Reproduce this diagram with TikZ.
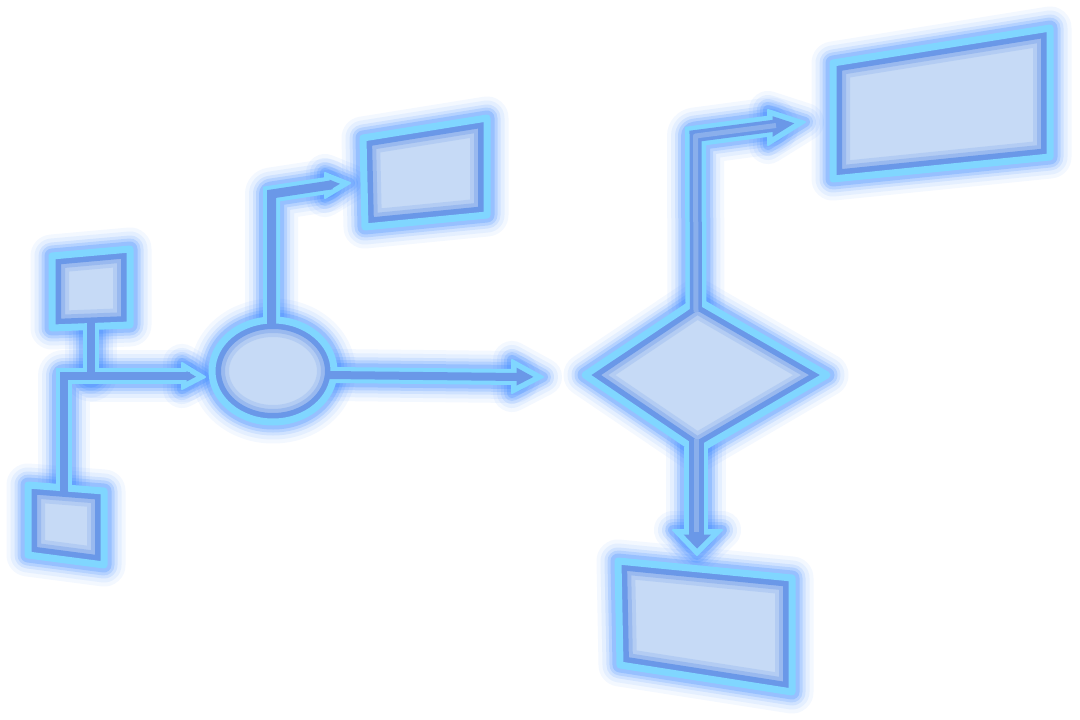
\documentclass[tikz,border=0pt]{standalone}
\definecolor{glowc}{HTML}{3A88FF}
\definecolor{rimc}{HTML}{80D6FF}
\definecolor{corec}{HTML}{6A98E8}
\definecolor{fillc}{HTML}{C6DAF6}
\newcommand\shpA{(52,256) -- (130,249) -- (130,325) -- (52,328) -- cycle}
\newcommand\shpB{(28,485) -- (104,491) -- (104,565) -- (28,555) -- cycle}
\newcommand\shpC{(363,138) -- (487,118) -- (487,215) -- (365,227) -- cycle}
\newcommand\shpD{(833,63) -- (1050,28) -- (1050,157) -- (833,179) -- cycle}
\newcommand\shpE{(618,561) -- (792,578) -- (792,692) -- (620,665) -- cycle}
\newcommand\shpF{(273,371) ellipse [x radius=61, y radius=51]}
\newcommand\shpG{(585,375) -- (697,300) -- (827,375) -- (697,451) -- cycle}
% connectors (through named coordinates)
\newcommand\cnA{(b2top) -- (cornA) -- (arA)}
\newcommand\cnAin{(b2in) -- (cornA) -- (arAin)}
\newcommand\cnB{(b1bot) -- (joinA)}
\newcommand\cnBin{(b1in) -- (joinA)}
\newcommand\cnC{(elTop) -- (cornC) -- (arC)}
\newcommand\cnCin{(elTopIn) -- (cornC) -- (arCin)}
\newcommand\cnD{(elRight) -- (arD)}
\newcommand\cnDin{(elRightIn) -- (arDin)}
\newcommand\cnE{(diTop) -- (cornE) -- (arE)}
\newcommand\cnEin{(diTopIn) -- (cornE) -- (arEin)}
\newcommand\cnF{(diBot) -- (arF)}
\newcommand\cnFin{(diBotIn) -- (arFin)}
% arrow heads: outer and inner outlines
\newcommand\hdA{(182,363) -- (205,377) -- (182,389) -- cycle}
\newcommand\hdAi{(186.5,371) -- (195.9,376.7) -- (186.5,381.6) -- cycle}
\newcommand\hdC{(325,173) -- (350,183) -- (325,198) -- cycle}
\newcommand\hdCi{(329.5,179.7) -- (339.9,183.8) -- (329.5,190.1) -- cycle}
\newcommand\hdD{(512,360) -- (543,377) -- (512,393) -- cycle}
\newcommand\hdDi{(516.5,367.6) -- (533.4,376.9) -- (516.5,385.6) -- cycle}
\newcommand\hdE{(768,110) -- (805,122) -- (768,145) -- cycle}
\newcommand\hdEi{(772.5,116.2) -- (794.3,123.3) -- (772.5,136.9) -- cycle}
\newcommand\hdF{(673,530) -- (697,555) -- (722,530) -- cycle}
\newcommand\hdFi{(683.6,534.5) -- (697,548.5) -- (711,534.5) -- cycle}
\newcommand\glowit[2]{\foreach \s/\o in {18/0.06,14/0.08,10/0.12,7/0.17,4/0.24}{\draw[glowc, opacity=\o, line width=#1+2*\s, line cap=round, line join=round] #2;}}
\newcommand\shapebody[1]{%
  \fill[fillc] #1;
  \begin{scope}
    \clip #1;
    \draw[corec, opacity=0.2, line width=34] #1;
    \draw[corec, opacity=0.35, line width=26] #1;
    \draw[corec, line width=18] #1;
  \end{scope}
  \draw[rimc, line width=7, line join=round] #1;}
\tikzset{rimline/.style={draw=rimc, line join=miter},
  coreline/.style={draw=corec, line join=miter},
  hilite/.style={draw=fillc, opacity=0.35, line width=5}}
\begin{document}
\begin{tikzpicture}[x=1pt,y=-1pt,line join=round]
\useasboundingbox (0,0) rectangle (1080,720);
\fill[white] (0,0) rectangle (1080,720);
% named coordinates
\coordinate (b2top) at (63.5,488);
\coordinate (b2in) at (63.5,494);
\coordinate (cornA) at (63.5,375.5);
\coordinate (arA) at (184,375.5);
\coordinate (arAin) at (190,375.5);
\coordinate (b1bot) at (90.5,326);
\coordinate (b1in) at (90.5,320);
\coordinate (joinA) at (90.5,375.5);
\coordinate (elTop) at (271.5,321);
\coordinate (elTopIn) at (271.5,327);
\coordinate (cornC) at (271.5,194);
\coordinate (arC) at (327,185.5);
\coordinate (arCin) at (332,184.8);
\coordinate (elRight) at (333,375);
\coordinate (elRightIn) at (327,375);
\coordinate (arD) at (514,377);
\coordinate (arDin) at (520,377);
\coordinate (diTop) at (696,304);
\coordinate (diTopIn) at (696,312);
\coordinate (cornE) at (695.5,136);
\coordinate (arE) at (770,126);
\coordinate (arEin) at (776,125.5);
\coordinate (diBot) at (696,447);
\coordinate (diBotIn) at (696,439);
\coordinate (arF) at (696,532);
\coordinate (arFin) at (696,537);
% glow
\glowit{7}{\shpA}
\glowit{7}{\shpB}
\glowit{7}{\shpC}
\glowit{7}{\shpD}
\glowit{7}{\shpE}
\glowit{7}{\shpF}
\glowit{7}{\shpG}
\glowit{16}{\cnA}
\glowit{16}{\cnB}
\glowit{17}{\cnC}
\glowit{16}{\cnD}
\glowit{21}{\cnE}
\glowit{24}{\cnF}
\glowit{2}{\hdA}
\glowit{2}{\hdC}
\glowit{2}{\hdD}
\glowit{2}{\hdE}
\glowit{2}{\hdF}
% connector rims
\draw[rimline, line width=16] \cnA;
\draw[rimline, line width=16] \cnB;
\draw[rimline, line width=17] \cnC;
\draw[rimline, line width=16] \cnD;
\draw[rimline, line width=21] \cnE;
\draw[rimline, line width=24] \cnF;
\foreach \h in {\hdA,\hdC,\hdD,\hdE,\hdF}{\filldraw[rimc, line width=2] \h;}
% shapes
\shapebody{\shpA}
\shapebody{\shpB}
\shapebody{\shpC}
\shapebody{\shpD}
\shapebody{\shpE}
\shapebody{\shpF}
\shapebody{\shpG}
% connector cores
\draw[coreline, line width=8] \cnAin;
\draw[coreline, line width=8] \cnBin;
\draw[coreline, line width=9] \cnCin;
\draw[coreline, line width=8] \cnDin;
\draw[coreline, line width=12] \cnEin;
\draw[coreline, line width=15] \cnFin;
\foreach \h in {\hdAi,\hdCi,\hdDi,\hdEi,\hdFi}{\fill[corec] \h;}
\draw[hilite] \cnEin;
\draw[hilite] (diBotIn) -- (arF);
\end{tikzpicture}
\end{document}
